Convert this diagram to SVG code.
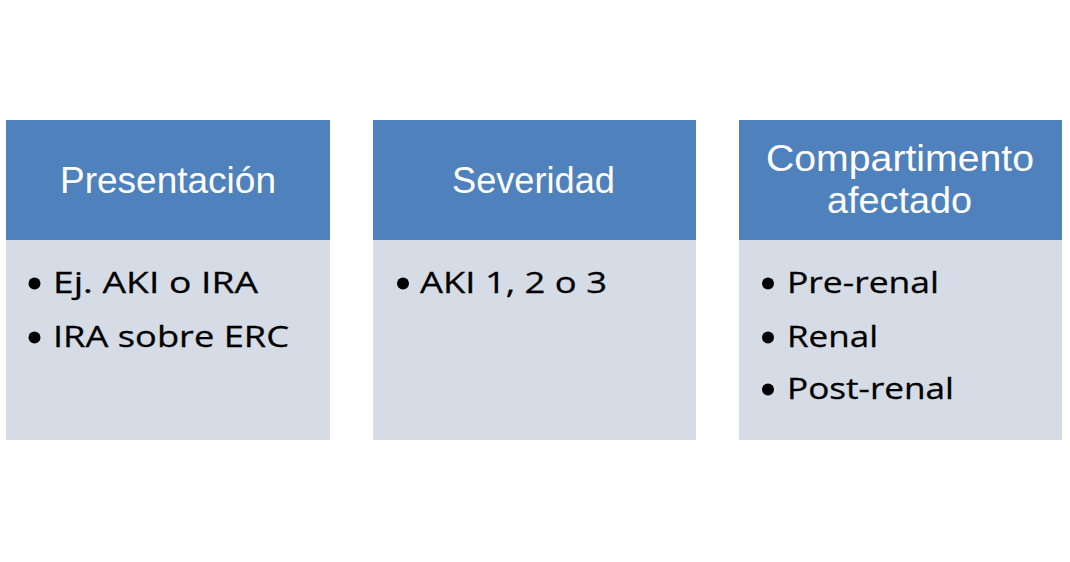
<svg xmlns="http://www.w3.org/2000/svg" width="1070" height="562" viewBox="0 0 1070 562">
<style>
.hd{fill:#4F81BD}
.bd{fill:#D6DCE5}
.ht{fill:#FFFFFF;font-family:"Liberation Sans","Open Sans",sans-serif;font-size:37.5px}
.bt{fill:#000000;font-family:"Open Sans","Noto Sans","Liberation Sans",sans-serif;font-size:30px;stroke:#000000;stroke-width:0.3px}
.dot{fill:#000000}
</style>
<rect x="0" y="0" width="1070" height="562" fill="#FFFFFF"/>
<g id="presentacion">
<rect class="hd" x="6" y="120" width="324" height="120"/>
<rect class="bd" x="6" y="240" width="324" height="200"/>
<text class="ht" x="60" y="193" textLength="216" lengthAdjust="spacingAndGlyphs">Presentación</text>
<circle class="dot" cx="34.5" cy="283.5" r="6"/>
<text class="bt" x="53" y="293" textLength="205" lengthAdjust="spacingAndGlyphs">Ej. AKI o IRA</text>
<circle class="dot" cx="34.5" cy="337.5" r="6"/>
<text class="bt" x="53" y="347" textLength="236" lengthAdjust="spacingAndGlyphs">IRA sobre ERC</text>
</g>
<g id="severidad">
<rect class="hd" x="373" y="120" width="323" height="120"/>
<rect class="bd" x="373" y="240" width="323" height="200"/>
<text class="ht" x="452" y="193" textLength="163" lengthAdjust="spacingAndGlyphs">Severidad</text>
<circle class="dot" cx="403" cy="283.5" r="6"/>
<text class="bt" x="420" y="293" textLength="187" lengthAdjust="spacingAndGlyphs">AKI 1, 2 o 3</text>
</g>
<g id="compartimento">
<rect class="hd" x="739" y="120" width="323" height="120"/>
<rect class="bd" x="739" y="240" width="323" height="200"/>
<text class="ht" x="766" y="171" textLength="268" lengthAdjust="spacingAndGlyphs">Compartimento</text>
<text class="ht" x="827" y="213" textLength="145" lengthAdjust="spacingAndGlyphs">afectado</text>
<circle class="dot" cx="768" cy="283.5" r="6"/>
<text class="bt" x="787" y="293" textLength="152" lengthAdjust="spacingAndGlyphs">Pre-renal</text>
<circle class="dot" cx="768" cy="337.5" r="6"/>
<text class="bt" x="787" y="347" textLength="91" lengthAdjust="spacingAndGlyphs">Renal</text>
<circle class="dot" cx="768" cy="389.5" r="6"/>
<text class="bt" x="787" y="399" textLength="167" lengthAdjust="spacingAndGlyphs">Post-renal</text>
</g>
<g id="connectors"></g>
</svg>
